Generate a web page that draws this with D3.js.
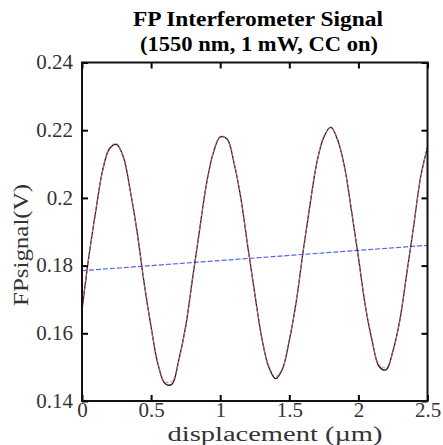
<!DOCTYPE html>
<html>
<head>
<meta charset="utf-8">
<script src="https://cdn.jsdelivr.net/npm/d3@7"></script>
<style>
  body { margin: 0; background: #fff; }
</style>
</head>
<body>
<script>
// displacement grid (um)
const disp = [0, 0.05, 0.1, 0.15, 0.2, 0.25, 0.3, 0.35, 0.4, 0.45,
  0.5, 0.55, 0.6, 0.65, 0.7, 0.75, 0.8, 0.85, 0.9, 0.95,
  1.0, 1.05, 1.1, 1.15, 1.2, 1.25, 1.3, 1.35, 1.4, 1.45,
  1.5, 1.55, 1.6, 1.65, 1.7, 1.75, 1.8, 1.85, 1.9, 1.95,
  2.0, 2.05, 2.1, 2.15, 2.2, 2.25, 2.3, 2.35, 2.4, 2.45, 2.5];

// measured FP signal (V), black trace
const measV = [0.1668, 0.1828, 0.1962, 0.2083, 0.2146, 0.2158, 0.2120, 0.2019, 0.1896, 0.1747,
  0.1619, 0.1508, 0.1452, 0.1449, 0.1521, 0.1620, 0.1762, 0.1903, 0.2040, 0.2133,
  0.2180, 0.2174, 0.2103, 0.1998, 0.1855, 0.1718, 0.1588, 0.1502, 0.1466, 0.1494,
  0.1579, 0.1693, 0.1842, 0.1980, 0.2106, 0.2180, 0.2209, 0.2171, 0.2091, 0.1962,
  0.1825, 0.1681, 0.1577, 0.1502, 0.1492, 0.1548, 0.1639, 0.1777, 0.1917, 0.2061, 0.2150];

// sinusoidal fit (V), red trace
const fitV = [0.1680, 0.1825, 0.1966, 0.2080, 0.2149, 0.2161, 0.2117, 0.2022, 0.1893, 0.1750,
  0.1616, 0.1512, 0.1457, 0.1458, 0.1517, 0.1623, 0.1759, 0.1906, 0.2037, 0.2136,
  0.2182, 0.2172, 0.2106, 0.1995, 0.1858, 0.1715, 0.1591, 0.1506, 0.1472, 0.1497,
  0.1576, 0.1696, 0.1840, 0.1983, 0.2104, 0.2183, 0.2207, 0.2174, 0.2088, 0.1965,
  0.1822, 0.1684, 0.1574, 0.1507, 0.1498, 0.1545, 0.1642, 0.1774, 0.1920, 0.2058, 0.2152];

// linear baseline (blue)
const baseX = [0, 2.5];
const baseV = [0.1785, 0.186];

const xTicks = [0, 0.5, 1, 1.5, 2, 2.5];
const yTicks = [0.14, 0.16, 0.18, 0.2, 0.22, 0.24];

const w = 443, h = 445;
const margin = {top: 62.5, right: 15.5, bottom: 44, left: 82};
const serif = '"Liberation Serif", "Times New Roman", Times, serif';

const svg = d3.select('body').append('svg')
  .attr('width', w)
  .attr('height', h)
  .attr('font-family', serif);

const xScale = d3.scaleLinear().domain([0, 2.5]).range([margin.left, w - margin.right]);
const yScale = d3.scaleLinear().domain([0.14, 0.24]).range([h - margin.bottom, margin.top]);

const tickFmt = d => String(+d.toFixed(2));

// clip for traces
svg.append('clipPath').attr('id', 'clip')
  .append('rect')
  .attr('x', margin.left).attr('y', margin.top)
  .attr('width', xScale(2.5) - xScale(0))
  .attr('height', yScale(0.14) - yScale(0.24));

const plot = svg.append('g').attr('clip-path', 'url(#clip)');

const line = (xs, ys) => d3.line()
  .x((d, i) => xScale(xs[i]))
  .y(d => yScale(d))
  .curve(d3.curveCatmullRom)(ys);

plot.append('path')
  .attr('d', line(baseX, baseV))
  .attr('fill', 'none')
  .attr('stroke', '#5566ee')
  .attr('stroke-width', 1.2)
  .attr('stroke-dasharray', '5,2');

plot.append('path')
  .attr('d', line(disp, measV))
  .attr('fill', 'none')
  .attr('stroke', '#2a1818')
  .attr('stroke-width', 1.3);

plot.append('path')
  .attr('d', line(disp, fitV))
  .attr('fill', 'none')
  .attr('stroke', '#d8707a')
  .attr('stroke-width', 1)
  .attr('stroke-dasharray', '3,2');

// axes, ticks pointing inward on all sides
const tickLen = 6;
svg.append('g')
  .attr('transform', 'translate(0,' + (h - margin.bottom) + ')')
  .call(d3.axisBottom(xScale).tickValues(xTicks).tickSizeInner(-tickLen).tickSizeOuter(0).tickFormat(tickFmt))
  .call(g => g.select('.domain').remove())
  .call(g => g.selectAll('line').attr('stroke-width', 2))
  .call(g => g.selectAll('text')
    .attr('font-family', serif).attr('font-size', 21).attr('fill', '#333')
    .attr('y', 16).attr('dy', 0));

svg.append('g')
  .attr('transform', 'translate(0,' + margin.top + ')')
  .call(d3.axisTop(xScale).tickValues(xTicks).tickSizeInner(-tickLen).tickSizeOuter(0).tickFormat(''))
  .call(g => g.select('.domain').remove())
  .call(g => g.selectAll('line').attr('stroke-width', 2));

svg.append('g')
  .attr('transform', 'translate(' + margin.left + ',0)')
  .call(d3.axisLeft(yScale).tickValues(yTicks).tickSizeInner(-tickLen).tickSizeOuter(0).tickFormat(tickFmt))
  .call(g => g.select('.domain').remove())
  .call(g => g.selectAll('line').attr('stroke-width', 2))
  .call(g => g.selectAll('text')
    .attr('font-family', serif).attr('font-size', 21).attr('fill', '#333')
    .attr('x', -9).attr('dy', '0.3em'));

svg.append('g')
  .attr('transform', 'translate(' + (w - margin.right) + ',0)')
  .call(d3.axisRight(yScale).tickValues(yTicks).tickSizeInner(-tickLen).tickSizeOuter(0).tickFormat(''))
  .call(g => g.select('.domain').remove())
  .call(g => g.selectAll('line').attr('stroke-width', 2));

// frame
svg.append('rect')
  .attr('x', margin.left).attr('y', margin.top)
  .attr('width', xScale(2.5) - xScale(0))
  .attr('height', yScale(0.14) - yScale(0.24))
  .attr('fill', 'none')
  .attr('stroke', '#111')
  .attr('stroke-width', 2);

// titles
svg.append('text')
  .attr('x', 258).attr('y', 26)
  .attr('text-anchor', 'middle')
  .attr('font-size', 20).attr('font-weight', 'bold')
  .attr('textLength', 250).attr('lengthAdjust', 'spacingAndGlyphs')
  .text('FP Interferometer Signal');
svg.append('text')
  .attr('x', 259).attr('y', 51)
  .attr('text-anchor', 'middle')
  .attr('font-size', 20).attr('font-weight', 'bold')
  .attr('textLength', 238).attr('lengthAdjust', 'spacingAndGlyphs')
  .text('(1550 nm, 1 mW, CC on)');

svg.append('text')
  .attr('x', 275).attr('y', 441)
  .attr('text-anchor', 'middle')
  .attr('font-size', 20).attr('fill', '#333')
  .attr('textLength', 215).attr('lengthAdjust', 'spacingAndGlyphs')
  .text('displacement (\u00b5m)');

svg.append('text')
  .attr('transform', 'translate(28,245) rotate(-90)')
  .attr('text-anchor', 'middle')
  .attr('font-size', 21).attr('fill', '#333')
  .attr('textLength', 122).attr('lengthAdjust', 'spacingAndGlyphs')
  .text('FPsignal(V)');
</script>
</body>
</html>
